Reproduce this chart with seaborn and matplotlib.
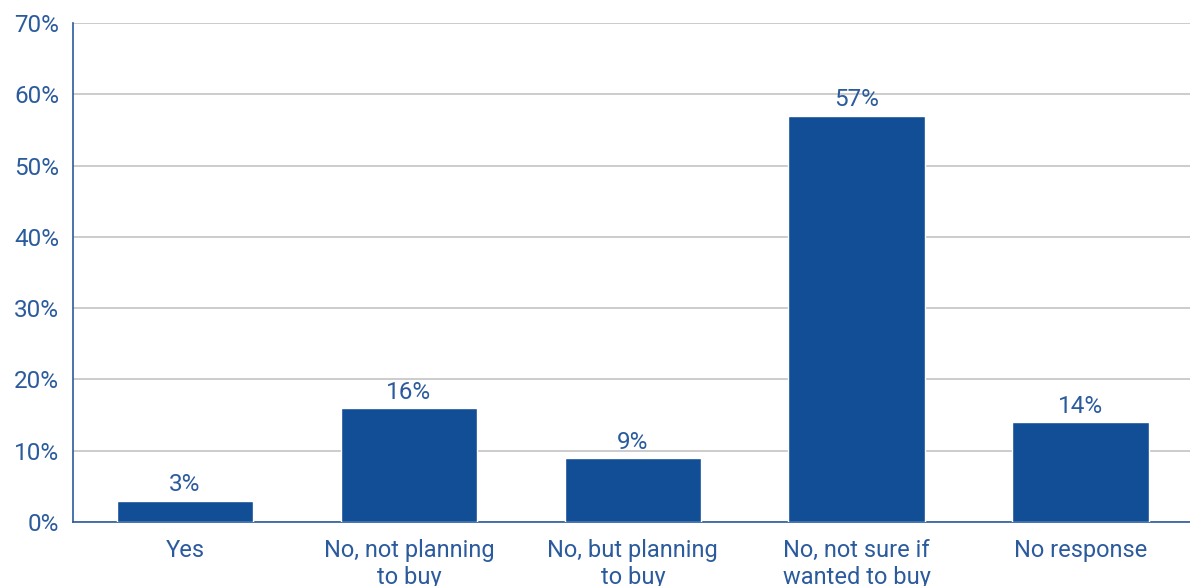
import matplotlib
matplotlib.use('Agg')
import matplotlib.pyplot as plt
import seaborn as sns
import pandas as pd
import numpy as np

categories = ['Yes', 'No, not planning\nto buy', 'No, but planning\nto buy',
              'No, not sure if\nwanted to buy', 'No response']
values = [3, 16, 9, 57, 14]
y_ticks = [0, 10, 20, 30, 40, 50, 60, 70]

bar_color = '#114E96'
text_color = '#2B5B9D'

sns.set_style('white')
plt.rcParams['font.family'] = ['Roboto', 'DejaVu Sans']

df = pd.DataFrame({'cat': categories, 'val': values})

fig = plt.figure(figsize=(11.9, 5.86), dpi=100)
ax = fig.add_axes([0.0613, 0.109, 0.941, 0.852])

sns.barplot(data=df, x='cat', y='val', color=bar_color, saturation=1, width=0.61, ax=ax, zorder=3)

ax.set_ylim(0, 70)
ax.set_xlim(-0.5, 4.5)
ax.set_yticks(y_ticks)
ax.set_yticklabels([f'{t}%' for t in y_ticks])
ax.yaxis.grid(True, color='#C4C4C4', linewidth=1.2, zorder=0)
ax.set_axisbelow(True)

# ticks at boundaries between categories
ax.set_xticks(np.arange(-0.5, 5.0, 1.0), minor=True)
ax.tick_params(axis='x', which='major', length=0, pad=12, labelsize=17, labelcolor=text_color)
ax.tick_params(axis='x', which='minor', length=7, width=1, color=text_color, direction='out')
ax.tick_params(axis='y', length=7, width=1, color=text_color, labelsize=17.5, labelcolor=text_color, pad=3, direction='out')
for lab in ax.get_xticklabels():
    lab.set_linespacing(1.22)

for s in ['top', 'right']:
    ax.spines[s].set_visible(False)
for s in ['left', 'bottom']:
    ax.spines[s].set_color(text_color)
    ax.spines[s].set_linewidth(1.2)

ax.set_xlabel('')
ax.set_ylabel('')

for i, v in enumerate(values):
    ax.text(i, v + 0.6, f'{v}%', ha='center', va='bottom', fontsize=17.5, color=text_color)

fig.savefig('out.png', dpi=100)
